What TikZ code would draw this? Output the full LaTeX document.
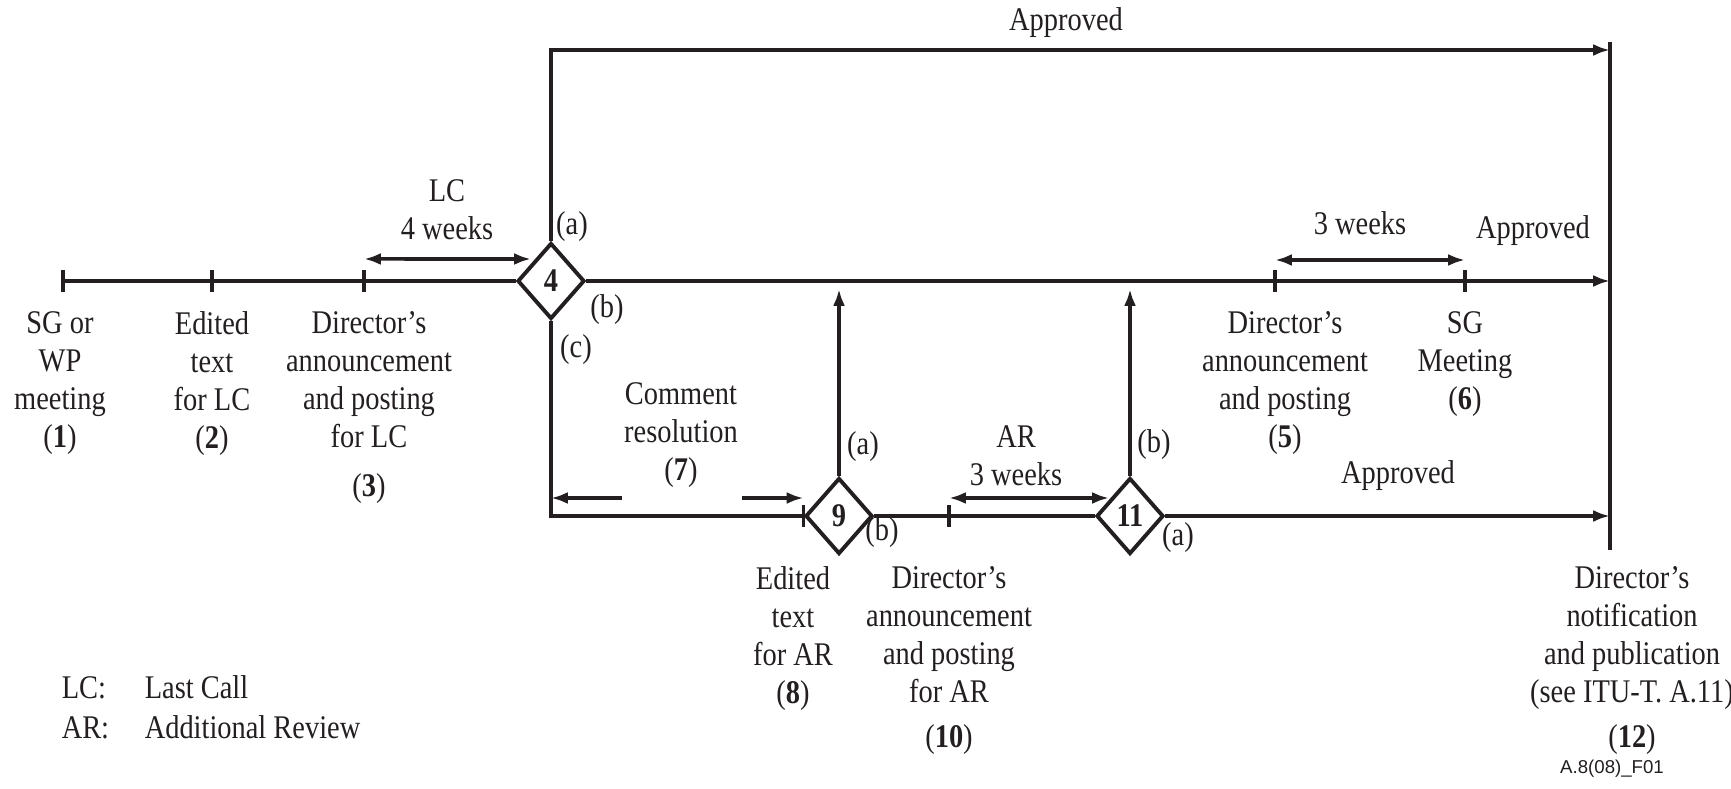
\documentclass[tikz,border=0pt]{standalone}
\usepackage{fontspec}
\setmainfont{Liberation Serif}[FakeStretch=0.86]
\newfontfamily\figsans{Liberation Sans}
\usepackage{xcolor}
\usepackage{tikz}
\usetikzlibrary{arrows.meta,positioning,shapes.geometric}
\definecolor{ink}{HTML}{231F20}
\newcommand{\figfont}{\fontsize{9.4}{10.8}\selectfont}
\tikzstyle{arrow} = [-{Latex[length=4.8pt,width=3.4pt]}]
\tikzstyle{span} = [{Latex[length=4.8pt,width=3.4pt]}-{Latex[length=4.8pt,width=3.4pt]}]
\tikzstyle{decision} = [diamond, draw, line width=1.1pt, minimum width=0.67cm, minimum height=0.76cm, inner sep=0pt, font=\figfont\bfseries]

\begin{document}
\begin{tikzpicture}[x=0.01cm, y=-0.01cm, line width=1pt, color=ink,
		every node/.style={font=\figfont, align=center, inner sep=0pt}]
		\useasboundingbox (0,0) rectangle (1731,788);

		% points on the time line
		\coordinate (sg) at (63,281);
		\coordinate (edit) at (212,281);
		\coordinate (dirlc) at (364,281);
		\coordinate (dir5) at (1275,281);
		\coordinate (sgm) at (1465,281);
		\coordinate (ar) at (949,516);
		\coordinate (bartop) at (1610,42);
		\coordinate (barbot) at (1610,550);
		\coordinate (appr) at (1610,50);

		\node[decision] (d4) at (551,281) {4};
		\node[decision] (d9) at (839,516) {9};
		\node[decision] (d11) at (1130,516) {11};

		\draw (bartop) -- (barbot);
		\draw (sg) -- (d4.west);
		\draw [arrow] (d4.east) -- (d4.east -| bartop);
		\draw [arrow] (d4.north) |- (appr);
		\draw (d4.south) |- (d9.west);
		\draw (d9.east) -- (d11.west);
		\draw [arrow] (d11.east) -- (d11.east -| barbot);
		\draw [arrow, shorten >=0.08cm] (d9.north) -- (d9.north |- d4.center);
		\draw [arrow, shorten >=0.08cm] (d11.north) -- (d11.north |- d4.center);

		\foreach \t in {sg,edit,dirlc,dir5,sgm,ar,d9.west}
			\draw (\t) ++(0,-11) -- ++(0,22);

		% durations
		\coordinate (lcend) at (531,259);
		\coordinate (crl) at (622,498);
		\coordinate (crr) at (742,498);
		\coordinate (arend) at (1109,498);
		\draw [span] ([yshift=0.22cm]dirlc) -- (lcend);
		\draw [span] ([yshift=0.21cm]dir5) -- ([yshift=0.21cm]sgm);
		\draw [arrow] (crl) -- (crl -| d4.south);
		\draw [arrow] (crr) -- (crr -| d9.west);
		\draw [span] ([yshift=0.18cm]ar) -- (arend);

		\node (lc) at (447,210) {LC\\4 weeks};
		\node (wk3) at (1360,223) {3 weeks};
		\node (cr) at (681,435) {Comment\\resolution\\(\textbf{7})};
		\node (arw) at (1016,456) {AR\\3 weeks};
		\node (ok1) at (1066,23) {Approved};
		\node (ok2) at (1533,231) {Approved};
		\node (ok3) at (1398,476) {Approved};

		% branches
		\node at (572,227) {(a)};
		\node at (607,310) {(b)};
		\node at (576,350) {(c)};
		\node at (863,447) {(a)};
		\node at (882,533) {(b)};
		\node at (1154,445) {(b)};
		\node at (1178,538) {(a)};

		% steps
		\node (s1) [below=0.29cm of sg, xshift=-0.03cm] {SG or\\WP\\meeting\\(\textbf{1})};
		\node (s2) [below=0.29cm of edit] {Edited\\text\\for LC\\(\textbf{2})};
		\node (s3) [below=0.29cm of dirlc, xshift=0.05cm] {Director's\\announcement\\and posting\\for LC\\[3pt](\textbf{3})};
		\node (s5) [below=0.29cm of dir5, xshift=0.1cm] {Director's\\announcement\\and posting\\(\textbf{5})};
		\node (s6) [below=0.29cm of sgm] {SG\\Meeting\\(\textbf{6})};
		\node (s8) [anchor=north] at (793,565) {Edited\\text\\for AR\\(\textbf{8})};
		\node (s10) [below=0.49cm of ar] {Director's\\announcement\\and posting\\for AR\\[2pt](\textbf{10})};
		\node (s12) [anchor=north] at (1632,565) {Director's\\notification\\and publication\\(see ITU-T. A.11)\\[2pt](\textbf{12})};

		% legend
		\node (lcabbr) [anchor=base west] at (60,698) {LC:};
		\node (lctext) [anchor=base west] at (143,698) {Last Call};
		\node (arabbr) [anchor=base west] at (60,738) {AR:};
		\node (artext) [anchor=base west] at (143,738) {Additional Review};
		\node (fig) [font=\figsans\fontsize{5.3}{6.3}\selectfont] at (1612,769) {A.8(08)\_F01};
	\end{tikzpicture}
\end{document}
